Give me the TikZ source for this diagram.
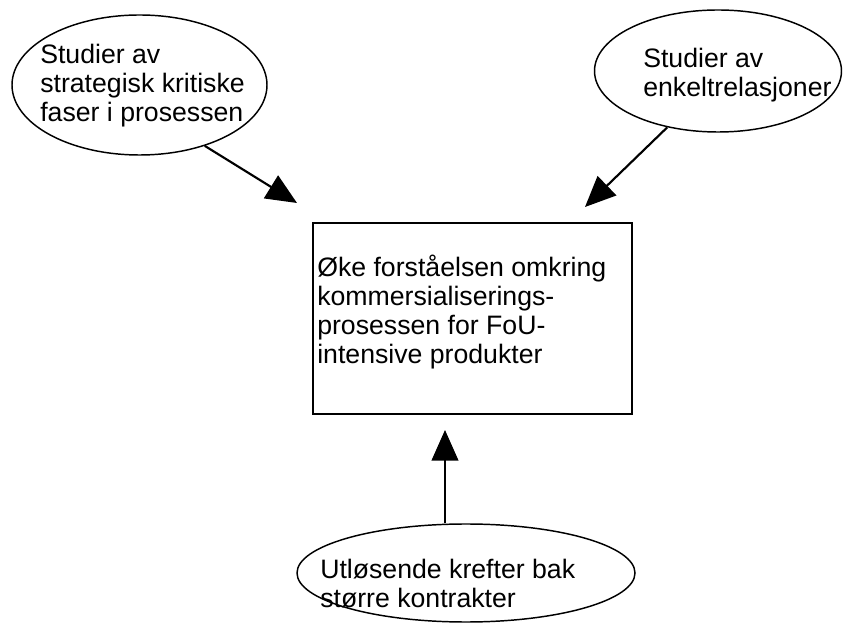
\documentclass[tikz,border=0pt]{standalone}
\usepackage{fontspec}
\setmainfont{Liberation Sans}
\usetikzlibrary{shapes.geometric,arrows.meta}
\begin{document}
\begin{tikzpicture}[x=0.75pt,y=-0.75pt,
  bubble/.style={ellipse,draw,line width=1.1pt,inner sep=0pt},
  goalbox/.style={rectangle,draw,line width=1.4pt,inner sep=0pt},
  txt/.style={anchor=north west,inner sep=0pt,align=left,
    font=\fontsize{20}{21.75}\selectfont},
  arr/.style={line width=1.6pt,-{Triangle[length=23pt,width=20pt]}}]
\useasboundingbox (0,0) rectangle (843,623);

% Ellipses and the central box
\node[bubble,minimum width=191.25pt,minimum height=105pt] (e1) at (139.5,85) {};
\node[bubble,minimum width=185.25pt,minimum height=91.5pt] (e2) at (718,71) {};
\node[bubble,minimum width=253.5pt,minimum height=73.5pt] (e3) at (466,573) {};
\node[goalbox,minimum width=239.25pt,minimum height=143.25pt] (goal) at (472.5,318.5) {};

% Texts
\node[txt] (l1) at (40,44) {Studier av\\strategisk kritiske\\faser i prosessen};
\node[txt] (l2) at (643,48) {Studier av\\enkeltrelasjoner};
\node[txt] (lg) at (317,255) {Øke forståelsen omkring\\kommersialiserings-\\prosessen for FoU-\\intensive produkter};
\node[txt] (l3) at (320,559) {Utløsende krefter bak\\større kontrakter};

% Arrow tips near the box
\coordinate (t1) at (297,203);
\coordinate (t2) at (585,207);
\coordinate (t3) at (445,430);

\draw[arr] (e1.-43) -- (t1);
\draw[arr] (e2.228) -- (t2);
\draw[arr] (e3.north -| t3) -- (t3);
\end{tikzpicture}
\end{document}
